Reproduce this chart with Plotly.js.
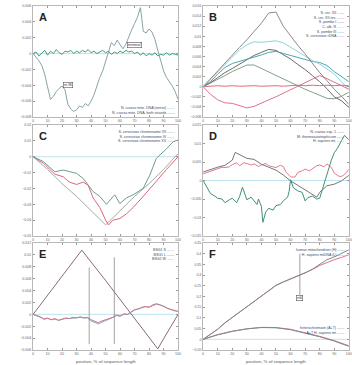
<!DOCTYPE html>
<html><head><meta charset="utf-8">
<script src="https://cdn.plot.ly/plotly-3.0.1.min.js"></script>
<style>html,body{margin:0;padding:0;background:#fff}#c{width:352px;height:365px}</style>
</head><body><div id="c"></div>
<script>
// ---------- Panel A ----------
const xA = [0,2,4,6,8,10,12,14,16,18,20,22,24,26,28,30,32,34,36,38,40,42,44,46,48,50,52,54,56,58,60,62,64,66,68,70,72,74,76,78,80,82,84,86,88,90,92,94,96,98,100];
const aGrey = [0,-0.0004,-0.0009,-0.0015,-0.0026,-0.0042,-0.0058,-0.0054,-0.0048,-0.0044,-0.0041,-0.0046,-0.0064,-0.0070,-0.0073,-0.0071,-0.0066,-0.0068,-0.0063,-0.0066,-0.0060,-0.0052,-0.0040,-0.0030,-0.0022,-0.0010,0.0003,0.0014,0.0010,0.0017,0.0011,0.0006,0.0012,0.0022,0.0030,0.0038,0.0046,0.0058,0.0028,0.0026,0.0031,0.0027,0.0018,0.0004,-0.0010,-0.0022,-0.0030,-0.0035,-0.0041,-0.0048,-0.0058];
const aGreen = [0,0.0002,-0.0003,0.0001,0.0004,-0.0002,0.0003,0.0000,0.0005,0.0001,-0.0001,0.0003,0.0002,0.0004,0.0000,0.0003,0.0001,0.0004,0.0002,0.0005,0.0001,0.0003,0.0000,0.0002,0.0004,0.0001,0.0003,-0.0001,0.0002,0.0000,0.0003,0.0001,0.0004,0.0002,0.0003,0.0000,0.0002,-0.0002,0.0001,-0.0003,0.0000,-0.0002,0.0001,-0.0003,-0.0001,-0.0002,0.0001,-0.0002,0.0000,-0.0001,-0.0002];
const legA = ["N. crassa mito. DNA (sense)", "N. crassa mito. DNA, both strands"];

// ---------- Panel B ----------
const xB = [0,5,10,15,20,25,30,35,40,45,50,55,60,65,70,75,80,85,90,95,100];
const bGrey  = [0,0.0016,0.0031,0.0046,0.0062,0.0078,0.0093,0.0110,0.0126,0.0146,0.0148,0.0120,0.0100,0.0082,0.0065,0.0046,0.0028,0.0012,-0.0005,-0.0019,-0.0035];
const bCyan  = [0,0.0015,0.0030,0.0045,0.0060,0.0073,0.0083,0.0089,0.0088,0.0090,0.0091,0.0087,0.0078,0.0069,0.0060,0.0052,0.0045,0.0035,0.0025,0.0010,-0.0006];
const bTeal  = [0,0.0010,0.0025,0.0038,0.0046,0.0050,0.0054,0.0058,0.0063,0.0068,0.0070,0.0066,0.0062,0.0058,0.0055,0.0050,0.0048,0.0042,0.0030,0.0020,0.0010];
const bDark  = [0,0.0008,0.0018,0.0028,0.0036,0.0045,0.0053,0.0062,0.0068,0.0074,0.0072,0.0063,0.0055,0.0044,0.0034,0.0022,0.0010,-0.0004,-0.0020,-0.0028,-0.0041];
const bGreen = [0,0.0007,0.0015,0.0022,0.0030,0.0037,0.0043,0.0043,0.0036,0.0029,0.0022,0.0015,0.0008,0.0001,-0.0005,-0.0011,-0.0017,-0.0023,-0.0024,-0.0019,-0.0011];
const bPink  = [0,-0.0015,-0.0026,-0.0032,-0.0033,-0.0038,-0.0042,-0.0039,-0.0032,-0.0026,-0.0020,-0.0013,-0.0007,0.0000,0.0007,0.0015,0.0022,0.0016,0.0009,0.0003,-0.0005];
const bRed   = [0,0.0001,0.0002,0.0001,0.0002,0.0001,0.0002,0.0002,0.0001,0.0002,0.0002,0.0001,0.0002,0.0003,0.0002,0.0003,0.0002,0.0003,0.0002,0.0003,0.0002];
const legB = ["S. cer. XII", "S. cer. XII rev.", "S. pombe I", "C. alb. R", "S. pombe III", "S. cerevisiae rDNA"];

// ---------- Panel C ----------
const xCg = [0,7,15,20.7,30,34.5,41.4,46,50.6,56.3,59.8,64.4,69,75.9,80.5,85,92,96.6,100];
const cGreen = [0,-0.003,-0.0095,-0.0084,-0.0105,-0.0137,-0.022,-0.025,-0.030,-0.024,-0.0295,-0.026,-0.024,-0.020,-0.0116,-0.001,0.005,0.0095,0.0105];
const xCr = [0,7,15,20.7,25,30,34.5,38,41.4,46,50,52,55,59.8,64.4,69,75,80.5,85,92,100];
const cRed = [0,-0.004,-0.011,-0.0126,-0.016,-0.0175,-0.016,-0.018,-0.026,-0.032,-0.040,-0.043,-0.040,-0.039,-0.036,-0.032,-0.026,-0.020,-0.015,-0.008,0.0];
const xCs = [0,10,20,30,40,50,60,70,80,90,100];
const cGrey = [0,-0.008,-0.017,-0.025,-0.034,-0.043,-0.034,-0.025,-0.017,-0.008,0.002];
const legC = ["S. cerevisiae chromosome XII", "S. cerevisiae chromosome IV", "S. cerevisiae chromosome XV"];

// ---------- Panel D ----------
const xDg = [0,2,5,8,10,13,15,18,20,23,25,27,28,30,33,35,37,38,40,41,43,45,48,50,53,55,58,59,60,62,65,68,70,72,75,78,80,82,85,88,90,92,95,97,100];
const dGreen = [0,-0.0015,-0.0035,-0.0042,-0.0048,-0.0050,-0.0060,-0.0052,-0.0048,-0.0060,-0.0044,-0.0018,-0.0030,-0.0052,-0.0045,-0.0055,-0.0065,-0.0050,-0.0070,-0.0113,-0.0085,-0.0075,-0.0080,-0.0068,-0.0065,-0.0055,-0.0045,-0.0030,0.0002,-0.0020,-0.0028,-0.0032,-0.0055,-0.0046,-0.0042,-0.0050,-0.0048,-0.0022,0.0018,0.0055,0.0075,0.0086,0.0108,0.0122,0.0110];
const xDs = [0,5,10,15,20,22,25,28,30,35,40,45,50,55,60,65,70,75,78,80,85,90,95,100];
const dGrey = [0.0023,0.0030,0.0036,0.0041,0.0055,0.0076,0.0070,0.0063,0.0060,0.0057,0.0044,0.0036,0.0028,0.0015,-0.0001,-0.0013,-0.0025,-0.0036,-0.0045,-0.0032,-0.0014,-0.0010,-0.0001,0.0014];
const xDr = [0,3,5,8,10,13,15,18,20,23,25,28,30,33,35,38,40,43,45,48,50,53,55,57,58,60,63,65,68,70,73,75,78,80,83,85,88,90,93,95,97,100];
const dRed = [0.0018,0.0022,0.0026,0.0029,0.0032,0.0036,0.0035,0.0037,0.0043,0.0048,0.0040,0.0048,0.0046,0.0042,0.0045,0.0038,0.0042,0.0046,0.0040,0.0036,0.0035,0.0041,0.0038,0.0022,0.0017,0.0010,0.0009,0.0022,0.0026,0.0031,0.0026,0.0032,0.0040,0.0042,0.0037,0.0045,0.0035,0.0020,0.0012,0.0011,0.0016,0.0030];
const legD = ["N. crassa ssp. 1", "M. thermoautotrophicum", "H. sapiens mt."];

// ---------- Panel E ----------
const xEm = [0,5,10,15,20,25,30,33.6,40,45,50,55,60,65,70,75,80,86,90,95,100];
const eMauve = [0,0.0016,0.0032,0.0049,0.0065,0.0081,0.0098,0.0108,0.0088,0.0073,0.0057,0.0041,0.0025,0.0009,-0.0007,-0.0023,-0.0039,-0.0058,-0.0041,-0.0020,0.0000];
const xE = [0,2.5,5,7.5,10,12.5,15,17.5,20,22.5,25,27.5,30,32.5,35,37.5,40,42.5,45,47.5,50,52.5,55,57.5,60,62.5,65,67.5,70,72.5,75,77.5,80,82.5,85,87.5,90,92.5,95,97.5,100];
const ePink = [0,-0.0002,-0.0004,-0.0008,-0.0006,-0.0009,-0.0007,-0.0010,-0.0008,-0.0006,-0.0007,-0.0005,-0.0006,-0.0004,-0.0006,-0.0005,-0.0009,-0.0012,-0.0014,-0.0011,-0.0009,-0.0007,-0.0005,-0.0001,-0.0003,0.0001,0.0000,0.0004,0.0008,0.0009,0.0012,0.0013,0.0012,0.0016,0.0018,0.0016,0.0014,0.0010,0.0008,0.0007,0.0005];
const eTeal = [0,-0.0002,-0.0005,-0.0008,-0.0007,-0.0009,-0.0008,-0.0010,-0.0008,-0.0007,-0.0007,-0.0006,-0.0006,-0.0005,-0.0006,-0.0006,-0.0011,-0.0014,-0.0016,-0.0013,-0.0011,-0.0008,-0.0005,-0.0002,-0.0003,0.0000,0.0000,0.0004,0.0007,0.0009,0.0011,0.0013,0.0012,0.0015,0.0017,0.0016,0.0013,0.0010,0.0008,0.0006,0.0005];
const eVx1 = [38.7, 38.7], eVy1 = [-0.0050, 0.0079];
const eVx2 = [56, 56], eVy2 = [-0.0050, 0.0096];
const legE = ["BSG1 S", "BSG1 L", "BSG2 W"];

// ---------- Panel F ----------
const xF = [0,5,10,15,20,25,30,35,40,45,50,55,60,65,70,75,80,85,90,95,100];
const fGrey = [0,0.022,0.047,0.077,0.102,0.130,0.155,0.180,0.205,0.228,0.252,0.268,0.282,0.295,0.310,0.328,0.352,0.372,0.385,0.400,0.418];
const fRed  = [0,0.022,0.047,0.077,0.102,0.130,0.155,0.180,0.205,0.228,0.252,0.268,0.282,0.295,0.310,0.326,0.345,0.360,0.372,0.383,0.395];
const xFh = [0,10,20,30,40,50,60,70,80,90,100];
const fHumpGrey = [0,0.022,0.038,0.049,0.055,0.054,0.045,0.030,0.012,-0.008,-0.033];
const fHumpRed  = [0,0.021,0.037,0.049,0.056,0.055,0.047,0.032,0.014,-0.006,-0.030];
const fVx = [66.4, 66.4], fVy = [0.205, 0.400];
const legF1 = ["human mitochondrion (H)", "H. sapiens mtDNA (L)"];
const legF2 = ["heterochromatin (A+T)", "A+T H. sapiens mt"];

const xTitle = "position, % of sequence length";

const C = {
  aGrey:"#87a4a8", aGreen:"#3c9c86",
  bGrey:"#8a8a8a", bCyan:"#8fd0dc", bTeal:"#4fa6b0", bDark:"#6a6a6a", bGreen:"#7fa08c", bPink:"#e0708e", bRed:"#e4697a",
  cGreen:"#6c9e8e", cRed:"#e06878", cGrey:"#a3aaaa",
  dGreen:"#3f8f78", dGrey:"#777777", dRed:"#e27a8a",
  eMauve:"#8a6a78", ePink:"#e0708a", eTeal:"#6ab8c8",
  fGrey:"#7a8a96", fRed:"#e07080", zero:"#b0dde8", vline:"#7a7a7a"
};

function ln(x, y, color, ax, w) {
  return {x:x, y:y, type:"scatter", mode:"lines", line:{color:color, width:w||1},
          xaxis:"x"+ax, yaxis:"y"+ax, hoverinfo:"skip", showlegend:false};
}
const zx = [0,100], zy = [0,0];
const traces = [
  ln(zx, zy, C.zero, "", 0.8), ln(xA, aGreen, C.aGreen, "", 1), ln(xA, aGrey, C.aGrey, "", 1),
  ln(xB, bGreen, C.bGreen, "2"), ln(xB, bDark, C.bDark, "2"), ln(xB, bTeal, C.bTeal, "2"), ln(xB, bCyan, C.bCyan, "2"),
  ln(xB, bPink, C.bPink, "2"), ln(xB, bRed, C.bRed, "2"), ln(xB, bGrey, C.bGrey, "2"),
  ln(zx, zy, C.zero, "3", 0.8), ln(xCs, cGrey, C.cGrey, "3"), ln(xCr, cRed, C.cRed, "3"), ln(xCg, cGreen, C.cGreen, "3"),
  ln(zx, zy, C.zero, "4", 0.8), ln(xDr, dRed, C.dRed, "4"), ln(xDs, dGrey, C.dGrey, "4"), ln(xDg, dGreen, C.dGreen, "4"),
  ln(zx, zy, C.zero, "5", 0.8), ln(xEm, eMauve, C.eMauve, "5"), ln(xE, eTeal, C.eTeal, "5"), ln(xE, ePink, C.ePink, "5"),
  ln(eVx1, eVy1, C.vline, "5", 0.7), ln(eVx2, eVy2, C.vline, "5", 0.7),
  ln(zx, zy, C.zero, "6", 0.8), ln(xFh, fHumpRed, C.fRed, "6"), ln(xFh, fHumpGrey, C.fGrey, "6"),
  ln(xF, fRed, C.fRed, "6"), ln(xF, fGrey, C.fGrey, "6"), ln(fVx, fVy, C.vline, "6", 0.7)
];

const L = [0.094, 0.506], R = [0.577, 0.991];
const R1 = [0.6795, 0.9836], R2 = [0.3534, 0.6575], R3 = [0.041, 0.3342];
const tickFont = {size:3.6, color:"#666", family:"Liberation Sans"};
function xax(dom, anchor) {
  return {domain:dom, anchor:anchor, range:[0,100], dtick:10, tick0:0, showgrid:false, zeroline:false,
    showline:true, linecolor:"#b8b8b8", linewidth:1, mirror:"ticks", ticks:"inside", ticklen:2, tickcolor:"#999",
    tickfont:tickFont, fixedrange:true};
}
function yax(dom, anchor, r, dt) {
  return {domain:dom, anchor:anchor, range:r, dtick:dt, tick0:0, showgrid:false, zeroline:false,
    showline:true, linecolor:"#b8b8b8", linewidth:1, mirror:"ticks", ticks:"inside", ticklen:2, tickcolor:"#999",
    tickfont:tickFont, fixedrange:true};
}

function letter(t, xr, yr) {
  return {text:"<b>"+t+"</b>", xref:xr+" domain", yref:yr+" domain", x:0.03, y:0.97, xanchor:"left", yanchor:"top",
    showarrow:false, font:{size:11, color:"#222", family:"Liberation Sans"}};
}
function legend(lines, colors, xr, yr, x, y) {
  const txt = lines.map((s,i)=>s+' <span style="color:'+colors[i]+'">——</span>').join("<br>");
  return {text:txt, xref:xr+" domain", yref:yr+" domain", x:x, y:y, xanchor:"right", yanchor:"top", align:"right",
    showarrow:false, font:{size:3.6, color:"#3a4a6a", family:"Liberation Sans"}};
}
function tag(t, xr, yr, x, y) {
  return {text:t, xref:xr, yref:yr, x:x, y:y, showarrow:false, bordercolor:"#555", borderwidth:0.6, borderpad:0.5,
    bgcolor:"#fff", font:{size:3.5, color:"#333", family:"Liberation Sans"}};
}
function xlabel(xr) {
  return {text:xTitle, xref:xr+" domain", yref:"paper", x:0.5, y:-0.004, xanchor:"center", yanchor:"bottom",
    showarrow:false, font:{size:4.4, color:"#555", family:"Liberation Sans"}};
}

const annotations = [
  letter("A","x","y"), letter("B","x2","y2"), letter("C","x3","y3"),
  letter("D","x4","y4"), letter("E","x5","y5"), letter("F","x6","y6"),
  legend(legA, [C.aGrey, C.aGreen], "x", "y", 0.99, 0.12),
  legend(legB, [C.bGrey, C.bPink, C.bDark, C.bCyan, C.bTeal, C.bRed], "x2", "y2", 0.99, 0.97),
  legend(legC, [C.cGreen, C.cGrey, C.cRed], "x3", "y3", 0.99, 0.97),
  legend(legD, [C.dGrey, C.dGreen, C.dRed], "x4", "y4", 0.99, 0.97),
  legend(legE, [C.eTeal, C.eMauve, C.ePink], "x5", "y5", 0.99, 0.97),
  legend(legF1, [C.fGrey, C.fRed], "x6", "y6", 0.99, 0.97),
  legend(legF2, [C.fGrey, C.fRed], "x6", "y6", 0.99, 0.24),
  tag("nt-96", "x", "y", 24, -0.0040),
  tag("terminal", "x", "y", 70, 0.0011),
  tag("nt6", "x6", "y6", 66.4, 0.195),
  xlabel("x5"), xlabel("x6")
];

const layout = {
  width:352, height:365, margin:{l:0, r:0, t:0, b:0}, paper_bgcolor:"#fff", plot_bgcolor:"#fff",
  showlegend:false, font:{family:"Liberation Sans"},
  xaxis:xax(L,"y"), yaxis:yax(R1,"x",[-0.008,0.006],0.002),
  xaxis2:xax(R,"y2"), yaxis2:yax(R1,"x2",[-0.006,0.016],0.002),
  xaxis3:xax(L,"y3"), yaxis3:yax(R2,"x3",[-0.05,0.02],0.01),
  xaxis4:xax(R,"y4"), yaxis4:yax(R2,"x4",[-0.015,0.015],0.005),
  xaxis5:xax(L,"y5"), yaxis5:yax(R3,"x5",[-0.006,0.012],0.002),
  xaxis6:xax(R,"y6"), yaxis6:yax(R3,"x6",[-0.05,0.45],0.05),
  annotations:annotations
};
Plotly.newPlot("c", traces, layout, {staticPlot:true, displayModeBar:false});
</script></body></html>
